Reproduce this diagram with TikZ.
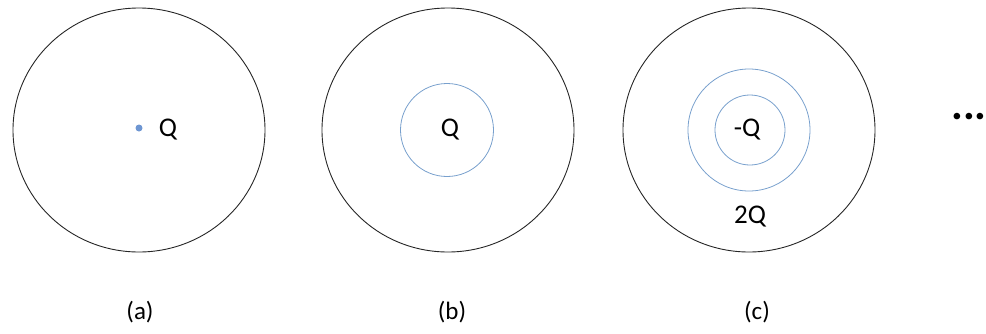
\documentclass[tikz,border=0pt]{standalone}
\usepackage{fontspec}
\setmainfont{Carlito}
\usetikzlibrary{shapes.geometric}
\definecolor{ringblue}{RGB}{120,160,205}
\definecolor{dotblue}{RGB}{110,150,210}
\tikzset{
  outer/.style={draw=black!85, line width=0.9pt, ellipse, minimum width=252pt, minimum height=244pt, inner sep=0pt},
  ring/.style={draw=ringblue, line width=0.8pt, circle, inner sep=0pt},
  qtext/.style={font=\fontsize{27}{30}\selectfont, inner sep=0pt},
  captext/.style={font=\fontsize{25}{28}\selectfont, inner sep=0pt}
}
\begin{document}
\begin{tikzpicture}[x=1pt,y=-1pt]
\useasboundingbox (0,0) rectangle (986,333);
% (a)
\node[outer] (oa) at (139,130) {};
\node[circle, fill=dotblue, minimum size=7pt, inner sep=0pt] (dot) at (139,128) {};
\node[qtext] (qa) at (168,130) {Q};
\node[captext] (la) at (140,312) {(a)};
% (b)
\node[outer] (ob) at (448,130) {};
\node[ring, minimum size=93pt] (rb) at (447,130) {};
\node[qtext] (qb) at (450,130) {Q};
\node[captext] (lb) at (452,312) {(b)};
% (c)
\node[outer] (oc) at (749,130) {};
\node[ring, minimum size=122pt] (rc2) at (749,130) {};
\node[ring, minimum size=70pt] (rc1) at (750,130) {};
\node[qtext] (qc) at (747,130) {-Q};
\node[qtext] (q2) at (750,217) {2Q};
\node[captext] (lc) at (757,312) {(c)};
% dots
\node[inner sep=0pt, font=\fontsize{44}{44}\selectfont\bfseries] (dd) at (969,117) {...};
\end{tikzpicture}
\end{document}
